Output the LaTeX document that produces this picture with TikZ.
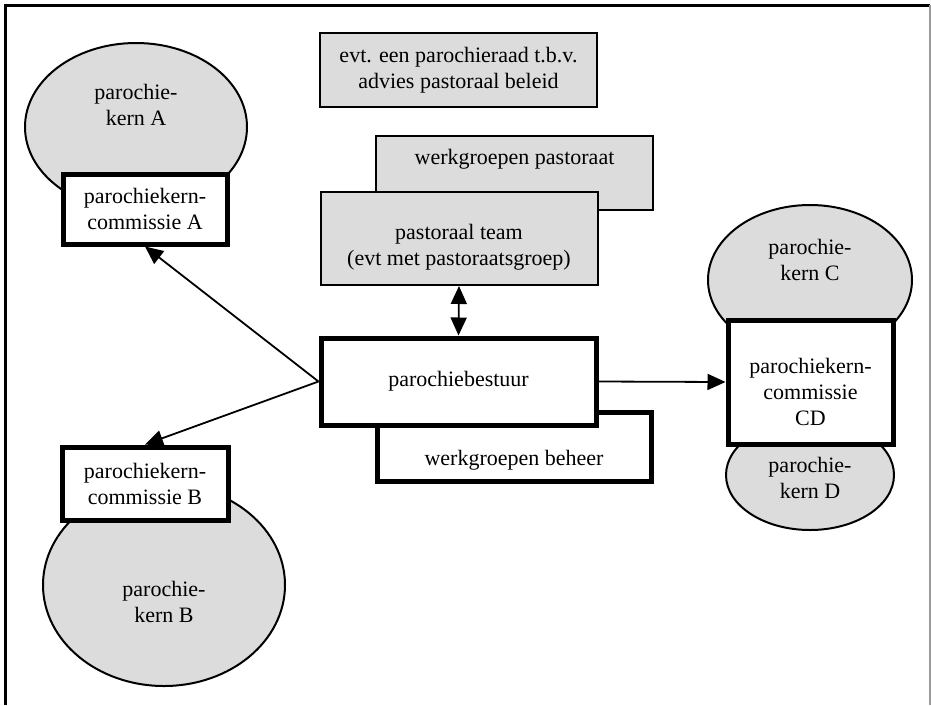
\documentclass[tikz,border=0pt]{standalone}
\usepackage{fontspec}
\setmainfont{Liberation Serif}
\usetikzlibrary{arrows.meta,shapes.geometric}

\definecolor{kerngray}{HTML}{DCDCDC}
\definecolor{framegray}{HTML}{9A9A9A}

\tikzset{
    kern/.style={ellipse, draw, line width=2pt, fill=kerngray, inner sep=0pt},
    graybox/.style={rectangle, draw, line width=2pt, fill=kerngray, align=center, inner sep=0pt},
    boldbox/.style={rectangle, draw, line width=5pt, fill=white, align=center, inner sep=0pt},
    pijl/.style={line width=1.8pt, -{Triangle[length=18pt,width=16pt]}},
}

\begin{document}
\begin{tikzpicture}[x=1pt, y=-1pt, font=\fontsize{22}{26}\selectfont]
    \useasboundingbox (0,0) rectangle (931,705);

    % frame
    \draw[line width=3pt] (5,705) -- (5,5) -- (930,5);
    \draw[line width=1.5pt, framegray] (930,5) -- (930,705);

    % kern A
    \node[kern, minimum width=222, minimum height=168] (kernA) at (136,127) {};
    \node[align=center] (kernAtxt) at (136,105) {parochie-\\kern A};
    \node[boldbox, minimum width=164, minimum height=70] (comA) at (145,209) {parochiekern-\\commissie A};

    % kern B
    \node[kern, minimum width=242, minimum height=202] (kernB) at (164,585) {};
    \node[align=center] (kernBtxt) at (164,602) {parochie-\\kern B};
    \node[boldbox, minimum width=166, minimum height=73] (comB) at (145,483.5) {parochiekern-\\commissie B};

    % kern C en D
    \node[kern, minimum width=204, minimum height=150] (kernC) at (810,280) {};
    \node[align=center] (kernCtxt) at (810,260) {parochie-\\kern C};
    \node[kern, minimum width=168, minimum height=110] (kernD) at (810,475) {};
    \node[align=center] (kernDtxt) at (810,478) {parochie-\\kern D};
    \node[boldbox, minimum width=165, minimum height=124] (comCD) at (810.5,382) {};
    \node[align=center] (comCDtxt) at (810.5,392) {parochiekern-\\commissie\\CD};

    % midden
    \node[graybox, minimum width=277, minimum height=74] (raad) at (458.5,70) {evt. een parochieraad t.b.v.\\advies pastoraal beleid};
    \node[graybox, minimum width=277, minimum height=74] (wgpast) at (514.5,173) {};
    \node (wgpasttxt) at (514.5,159) {werkgroepen pastoraat};
    \node[graybox, minimum width=277, minimum height=93] (team) at (459,238.5) {};
    \node[align=center] (teamtxt) at (459,247) {pastoraal team\\(evt met pastoraatsgroep)};

    \node[boldbox, minimum width=274, minimum height=69] (wgbeheer) at (514,446.5) {};
    \node (wgbeheertxt) at (514,460) {werkgroepen beheer};
    \node[boldbox, minimum width=275, minimum height=87] (bestuur) at (458.5,381.5) {parochiebestuur};

    % pijlen
    \draw[line width=1.8pt, {Triangle[length=18pt,width=16pt]}-{Triangle[length=18pt,width=16pt]}] (team.south) -- (bestuur.north);
    \draw[pijl] (bestuur.west) -- (comA.south);
    \draw[pijl] (bestuur.west) -- (comB.north);
    \draw[pijl] (bestuur.east) -- (comCD.west);
\end{tikzpicture}
\end{document}
